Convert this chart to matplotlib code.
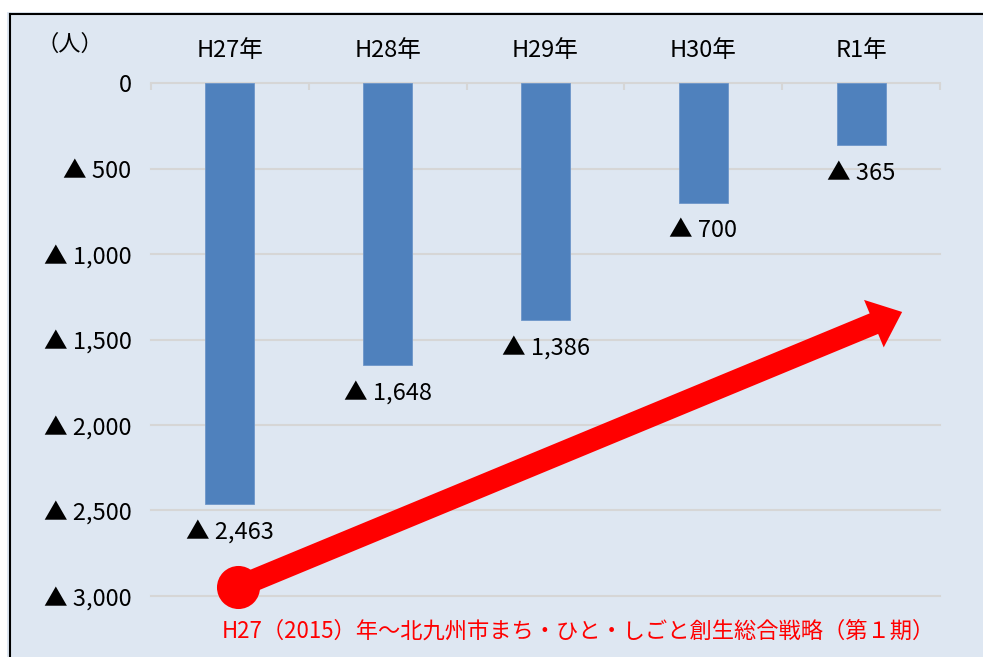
import matplotlib
matplotlib.use("Agg")
import matplotlib.pyplot as plt
from matplotlib.lines import Line2D
from matplotlib.patches import Rectangle, FancyArrowPatch, ArrowStyle
from matplotlib.ticker import FixedLocator

plt.rcParams["font.family"] = ["Noto Sans CJK JP", "DejaVu Sans"]

years = ["H27年", "H28年", "H29年", "H30年", "R1年"]
change = [-2463, -1648, -1386, -700, -365]
yticks = [0, -500, -1000, -1500, -2000, -2500, -3000]
note = "H27（2015）年～北九州市まち・ひと・しごと創生総合戦略（第１期）"

BG = "#DEE7F2"
BAR = "#4F81BD"


def tri(v):
    """0 -> '0', negative -> '▲ 1,000' style label."""
    return "0" if v == 0 else f"▲ {abs(v):,}"


fig = plt.figure(figsize=(9.83, 6.57), dpi=100, facecolor="white")
# chart area + frame (white strip on top, black border top/left)
fig.patches.append(Rectangle((7 / 983, 0), 1, 1 - 12 / 657, transform=fig.transFigure,
                             facecolor=BG, edgecolor="none", zorder=-2))
fig.lines.append(Line2D([9.5 / 983, 1], [1 - 13.5 / 657] * 2, transform=fig.transFigure,
                        color="black", lw=1.5))
fig.lines.append(Line2D([9.5 / 983] * 2, [0, 1 - 13.5 / 657], transform=fig.transFigure,
                        color="black", lw=1.5))

ax = fig.add_axes([151 / 983, 1 - 596 / 657, 789 / 983, 513 / 657])
ax.set_facecolor(BG)
x = range(len(years))
ax.bar(x, change, width=0.31, color=BAR, edgecolor="#6D96C9", linewidth=0.6, zorder=3)
ax.set_xlim(-0.5, len(years) - 0.5)
ax.set_ylim(-3000, 0)

for s in ax.spines.values():
    s.set_visible(False)
ax.yaxis.set_major_locator(FixedLocator(yticks))
ax.set_yticklabels([tri(v) for v in yticks])
ax.grid(axis="y", color="#D6D6D6", lw=1.5, zorder=0)
for gl in ax.yaxis.get_gridlines():
    gl.set_clip_on(False)
ax.tick_params(axis="y", length=0, pad=14, labelsize=17)

ax.xaxis.tick_top()
ax.set_xticks(list(x))
ax.set_xticklabels(years, fontsize=17)
ax.set_xticks([i - 0.5 for i in range(len(years) + 1)], minor=True)
ax.tick_params(axis="x", which="major", length=0, pad=15)
ax.tick_params(axis="x", which="minor", direction="in", length=5, color="#D6D6D6", width=1.5)

for i, v in enumerate(change):
    ax.annotate(tri(v), (i, v), xytext=(0, -20), textcoords="offset points",
                ha="center", va="center", fontsize=17, zorder=4)

ax.text(-0.06, 1.075, "（人）", transform=ax.transAxes, ha="right", va="center", fontsize=16)

# red trend arrow
start, tip = (0.05, -2947), (4.26, -1339)
arr = FancyArrowPatch(start, tip, shrinkA=0, shrinkB=0, clip_on=False, zorder=5,
                      arrowstyle=ArrowStyle.Simple(head_length=22, head_width=37, tail_width=16),
                      color="#FF0000", lw=0)
ax.add_patch(arr)
ax.plot([start[0]], [start[1]], "o", ms=31, color="#FF0000", mec="none",
        clip_on=False, zorder=6)

fig.text(222 / 983, 1 - 631 / 657, note, color="#FF0000", fontsize=16,
         ha="left", va="center")

fig.savefig("out.png", dpi=100, facecolor=fig.get_facecolor())
